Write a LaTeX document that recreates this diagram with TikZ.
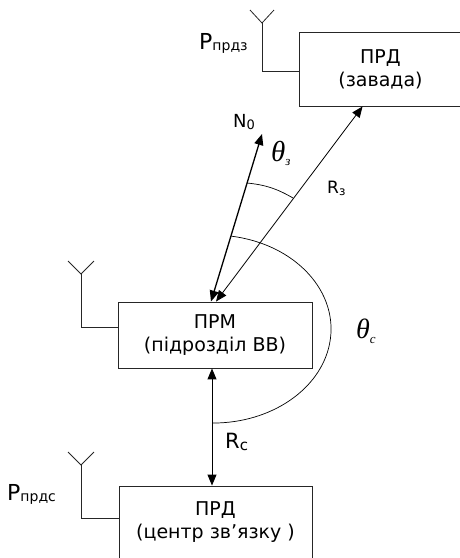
\documentclass[tikz,border=0pt]{standalone}
\usepackage{fontspec}
\setmainfont{DejaVu Sans}
\newfontfamily\thetafont{Liberation Serif}
\usetikzlibrary{arrows.meta,calc}
\newcommand{\fs}[1]{\fontsize{#1}{#1}\selectfont}
\begin{document}
\begin{tikzpicture}[x=1pt,y=-1pt,
  box/.style={draw=black!85, line width=0.9pt, inner sep=0pt, align=center,
    font=\fontsize{19}{23}\selectfont},
  ant/.style={draw=black!85, line width=0.8pt},
  lbl/.style={anchor=base west, inner sep=0pt},
  >={Triangle[length=11pt,width=9pt]}]
\useasboundingbox (0,0) rectangle (460,558);
\clip (0,0) rectangle (460,558);

% boxes
\node[box, minimum width=163pt, minimum height=74pt] (zav) at (380.5,69) {ПРД\\(завада)};
\node[box, minimum width=194pt, minimum height=66pt] (prm) at (215,335) {ПРМ\\(підрозділ ВВ)};
\node[box, minimum width=193pt, minimum height=73pt] (prdc) at (215.5,522.5) {ПРД\\(центр зв’язку )};

% antennas
\coordinate (j1) at (262,23);
\coordinate (j2) at (81,274);
\coordinate (j3) at (81,465);
\draw[ant] ($(zav.west)+(0,2)$) -| (j1);
\draw[ant] (250,10) -- (j1) -- (274,10);
\draw[ant] ($(prm.west)+(0,-8)$) -| (j2);
\draw[ant] (68,261) -- (j2) -- (94,261);
\draw[ant] ($(prdc.west)+(0,-4.5)$) -| (j3);
\draw[ant] (68,452) -- (j3) -- (94,452);

% arrows
\coordinate (n0) at (262,134);
\draw[<->, line width=1.3pt] ($(prm.north)+(-4,0)$) -- (n0);
\draw[<->, line width=0.8pt] ($(prm.north)+(1,0)$) -- ($(zav.south west)+(64,0)$);
\draw[<->, line width=1pt] ($(prm.south)+(-3,0)$) -- ($(prdc.north)+(-3.5,0)$);

% angle arcs
\coordinate (a1) at (247.2,183);
\coordinate (a2) at (293,198);
\draw[line width=0.7pt] (a1) to[bend left=12] (a2);
\coordinate (b1) at (231.5,236.2);
\draw[line width=0.7pt] (b1) arc[start angle=-81, end angle=90, x radius=118, y radius=94];

% labels
\node[lbl] (pz) at (199,49) {\fs{22}P\fs{14}\raisebox{-1pt}{прдз}};
\node[lbl] (pc) at (7,500) {\fs{22}P\fs{14}\raisebox{-1pt}{прдс}};
\node[lbl] (ln0) at (233,127) {\fs{18}N\fs{13}\raisebox{-2pt}{0}};
\node[lbl] (lt3) at (271,161) {\thetafont\itshape\fs{29}θ\fs{13}\raisebox{-4pt}{з}};
\node[lbl] (lr3) at (327,193) {\fs{17}R\fs{12}\raisebox{-2pt}{з}};
\node[lbl] (ltc) at (356,338) {\thetafont\itshape\fs{28}θ\fs{13}\raisebox{-5pt}{c}};
\node[lbl] (lrc) at (225,448) {\fs{21}R\fs{15}\raisebox{-2pt}{c}};
\end{tikzpicture}
\end{document}
